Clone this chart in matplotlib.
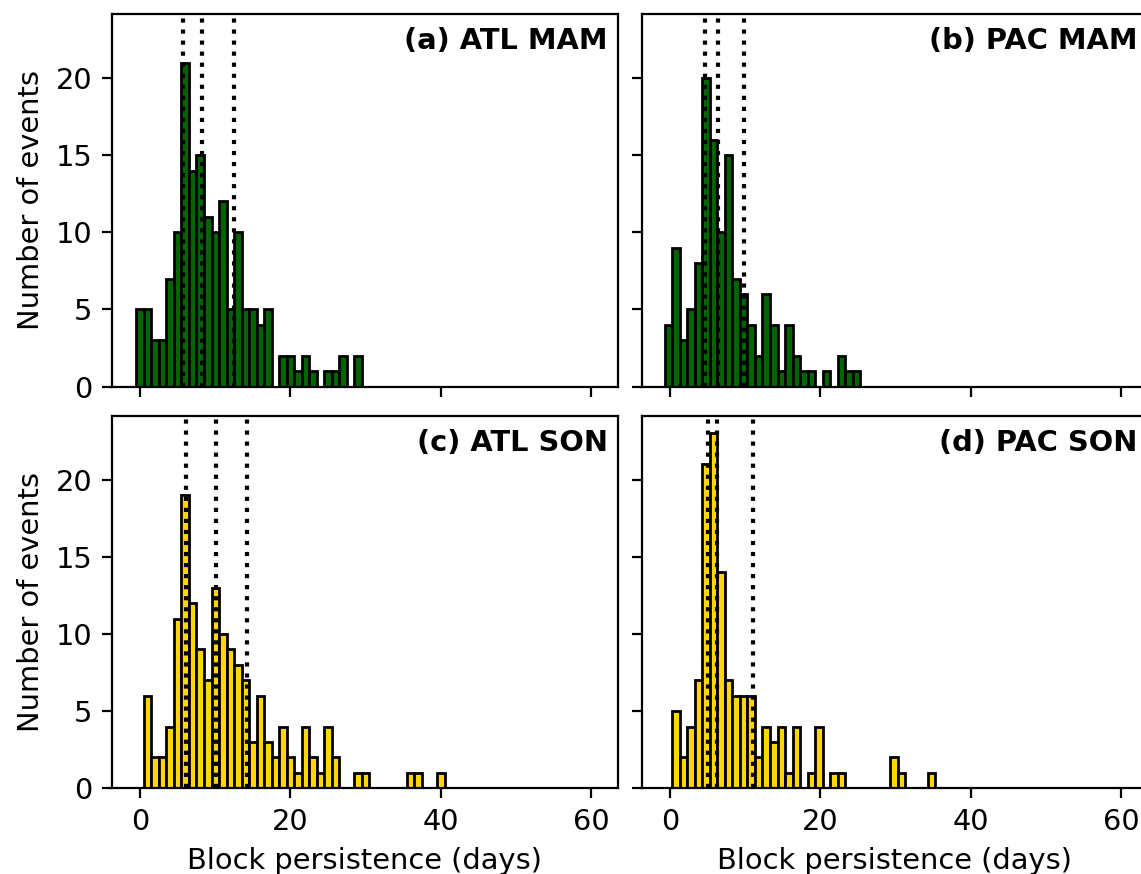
import numpy as np
import matplotlib.pyplot as plt

plt.rcParams['font.size'] = 10.4

# events per persistence day (day 0, 1, 2, ...), zero beyond the list
atl_mam = [5, 5, 3, 3, 7, 10, 21, 14, 15, 11, 10, 12, 5, 10, 5, 5, 4, 5, 0, 2,
           2, 1, 2, 1, 0, 1, 1, 2, 0, 2]
pac_mam = [4, 9, 3, 5, 8, 20, 16, 10, 15, 7, 6, 4, 2, 6, 4, 1, 4, 2, 1, 1,
           0, 1, 0, 2, 1, 1]
atl_son = [0, 6, 2, 2, 4, 11, 19, 12, 9, 7, 13, 10, 9, 8, 7, 3, 6, 3, 2, 4,
           2, 1, 4, 2, 1, 4, 2, 0, 0, 1, 1, 0, 0, 0, 0, 0, 1, 1, 0, 0, 1]
pac_son = [0, 5, 2, 4, 7, 21, 23, 14, 7, 6, 6, 6, 2, 4, 3, 4, 1, 4, 0, 1,
           4, 0, 1, 1, 0, 0, 0, 0, 0, 0, 2, 1, 0, 0, 0, 1]

# dotted lines (days)
atl_mam_lines = [5.75, 8.2, 12.5]
pac_mam_lines = [4.7, 6.4, 9.9]
atl_son_lines = [6.05, 10.05, 14.25]
pac_son_lines = [5.0, 6.3, 11.1]

labels = ['(a) ATL MAM', '(b) PAC MAM', '(c) ATL SON', '(d) PAC SON']
n_days = 61
days = np.arange(n_days)


def main():
    fig, axes = plt.subplots(2, 2, sharex=True, sharey=True,
                             figsize=(1141 / 200, 874 / 200), dpi=200)
    fig.subplots_adjust(left=0.098, right=1.006, bottom=0.098, top=0.984,
                        wspace=0.047, hspace=0.078)

    data = [atl_mam, pac_mam, atl_son, pac_son]
    lines = [atl_mam_lines, pac_mam_lines, atl_son_lines, pac_son_lines]
    colors = ['darkgreen', 'darkgreen', 'gold', 'gold']
    shifts = [0, -0.2, 0, -0.2]

    for ax, counts, qs, col, lab, sh in zip(axes.flat, data, lines, colors,
                                             labels, shifts):
        c = np.zeros(n_days)
        c[:len(counts)] = counts
        ax.bar(days + sh, c, width=1, color=col, edgecolor='black',
               linewidth=1.0)
        for q in qs:
            ax.axvline(q, color='black', linestyle=':', linewidth=1.5)
        ax.text(0.98, 0.965, lab, transform=ax.transAxes, ha='right',
                va='top', fontweight='bold')

    axes[0, 0].set_ylabel('Number of events')
    axes[1, 0].set_ylabel('Number of events')
    axes[1, 0].set_xlabel('Block persistence (days)')
    axes[1, 1].set_xlabel('Block persistence (days)')
    axes[0, 0].set_xticks([0, 20, 40, 60])
    axes[0, 0].set_yticks([0, 5, 10, 15, 20])

    fig.savefig('out.png', dpi=200)


if __name__ == '__main__':
    main()
